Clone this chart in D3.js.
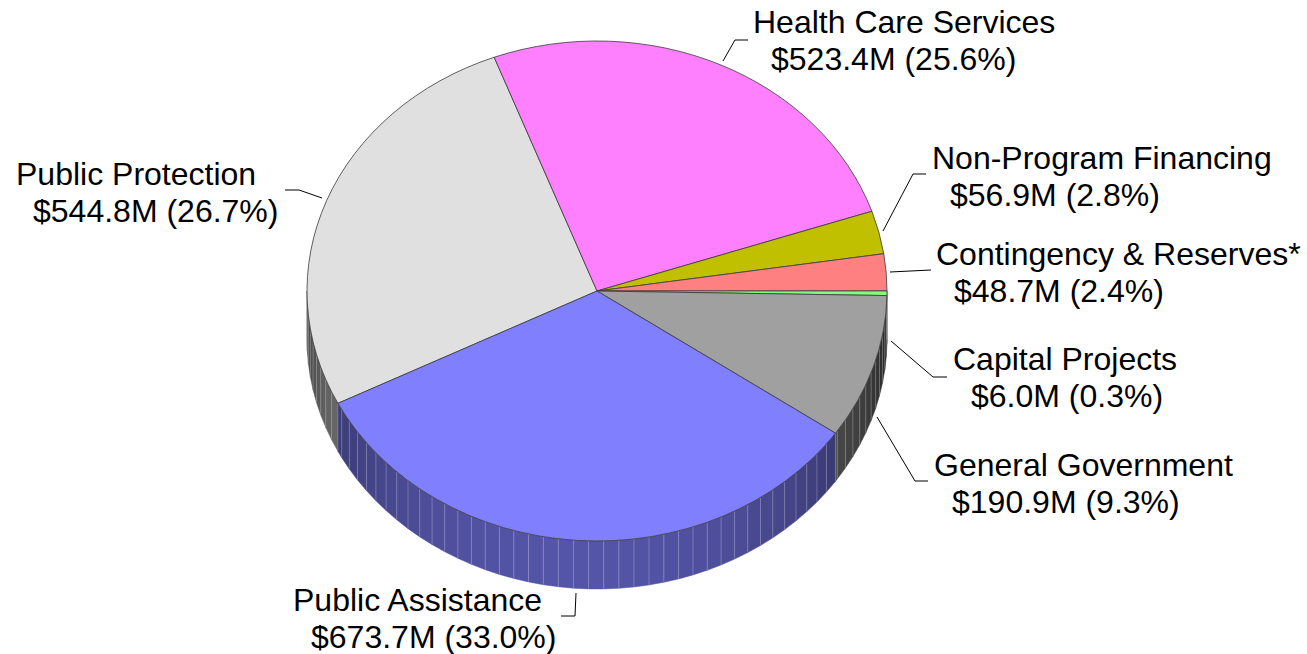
<!DOCTYPE html>
<meta charset="utf-8">
<style>
  html, body { margin: 0; padding: 0; background: #fff; }
  svg { display: block; }
</style>

<!-- Load d3.js -->
<script src="https://d3js.org/d3.v7.min.js"></script>

<div id="my_dataviz"></div>
<script>

    // data, clockwise from the Public Protection slice
    const categories = ["Public Protection", "Health Care Services", "Non-Program Financing", "Contingency & Reserves*", "Capital Projects", "General Government", "Public Assistance"];
    const amounts = [544.8, 523.4, 56.9, 48.7, 6.0, 190.9, 673.7];
    const amountLabels = ["$544.8M (26.7%)", "$523.4M (25.6%)", "$56.9M (2.8%)", "$48.7M (2.4%)", "$6.0M (0.3%)", "$190.9M (9.3%)", "$673.7M (33.0%)"];
    const colors = ["#e0e0e0", "#ff80ff", "#c0c000", "#ff8080", "#80ff80", "#a0a0a0", "#8080ff"];

    // layout of the labels and their leader lines
    const labelPos = [[16, 185, 33], [753, 33, 771], [932, 169, 950], [936, 265, 954], [953, 370, 971], [934, 476, 952], [293, 611, 311]];
    const leaders = [
      [[322, 198], [299, 190], [285, 190]],
      [[723, 61], [735, 40], [748, 40]],
      [[883, 231], [913, 174], [926, 174]],
      [[890, 272], [931, 270]],
      [[891, 341], [933, 377], [947, 377]],
      [[877, 417], [915, 481], [928, 481]],
      [[576, 593], [575, 616], [561, 616]]
    ];

    const width = 1307, height = 654;
    const cx = 597, cy = 291, rx = 290, ry = 250, depth = 48;
    const rad = Math.PI / 180;
    const facetStep = 3 * rad;

    const svg = d3.select("#my_dataviz")
      .append("svg")
        .attr("width", width)
        .attr("height", height);

    // angles of the slices
    const pie = d3.pie().sort(null).value(d => d)
      .startAngle(243.3 * rad)
      .endAngle((243.3 + 360) * rad);
    const slices = pie(amounts);

    // point on the rim for a given angle
    const rimX = a => cx + rx * Math.sin(a);
    const rimY = a => cy - ry * Math.cos(a);

    // the wall is only seen between 90 and 270 degrees
    function visibleSpans(s) {
      const spans = [];
      [0, 2 * Math.PI].forEach(k => {
        const a0 = Math.max(s.startAngle, Math.PI / 2 + k);
        const a1 = Math.min(s.endAngle, 3 * Math.PI / 2 + k);
        if (a1 > a0) spans.push([a0, a1]);
      });
      return spans;
    }

    // cut the wall in facets of 3 degrees, counted from the slice start
    const facets = [];
    slices.forEach((s, i) => {
      visibleSpans(s).forEach(([a0, a1]) => {
        const first = Math.floor((a0 - s.startAngle) / facetStep + 1e-6);
        for (let k = first; s.startAngle + k * facetStep < a1; k++) {
          const f0 = Math.max(a0, s.startAngle + k * facetStep);
          const f1 = Math.min(a1, s.startAngle + (k + 1) * facetStep);
          facets.push({i, a0: f0, a1: f1});
        }
      });
    });

    // shading, lightest near the bottom of the pie
    function shade(color, a) {
      const deg = ((a / rad) % 360);
      const f = Math.max(0.22, 0.25 + 0.41 * Math.cos((deg - 185) * rad));
      const c = d3.rgb(color);
      return d3.rgb(c.r * f, c.g * f, c.b * f).formatHex();
    }

    const line = d3.line();

    const wall = svg.append("g");
    wall.selectAll("path.facet")
      .data(facets)
      .join("path")
        .attr("class", "facet")
        .attr("d", d => line([
          [rimX(d.a0), rimY(d.a0)],
          [rimX(d.a1), rimY(d.a1)],
          [rimX(d.a1), rimY(d.a1) + depth],
          [rimX(d.a0), rimY(d.a0) + depth]
        ]) + "Z")
        .attr("fill", d => shade(colors[d.i], (d.a0 + d.a1) / 2))
        .attr("stroke", d => shade(colors[d.i], (d.a0 + d.a1) / 2))
        .attr("stroke-width", 0.5);

    // light hairlines between the facets
    wall.selectAll("path.seam")
      .data(facets.filter(d => d.a0 > Math.PI / 2 + 0.01))
      .join("path")
        .attr("class", "seam")
        .attr("d", d => line([[rimX(d.a0), rimY(d.a0)], [rimX(d.a0), rimY(d.a0) + depth]]))
        .attr("stroke", "#fff")
        .attr("stroke-opacity", 0.24)
        .attr("stroke-width", 1)
        .attr("fill", "none");

    // top of the pie: a circular arc squashed into an ellipse
    const arc = d3.arc().innerRadius(0).outerRadius(rx);
    svg.append("g")
      .attr("transform", `translate(${cx}, ${cy}) scale(1, ${ry / rx})`)
      .selectAll("path")
      .data(slices)
      .join("path")
        .attr("d", arc)
        .attr("fill", (d, i) => colors[i])
        .attr("stroke", "#3a3a3a")
        .attr("stroke-width", 0.8)
        .attr("stroke-linejoin", "round")
        .style("vector-effect", "non-scaling-stroke");

    // leader lines
    svg.append("g")
      .selectAll("path")
      .data(leaders)
      .join("path")
        .attr("d", d => line(d))
        .attr("fill", "none")
        .attr("stroke", "#000")
        .attr("stroke-width", 1);

    // labels, two lines each
    const label = svg.append("g")
      .style("font-family", "'Liberation Sans', Arial, sans-serif")
      .style("font-size", "32px")
      .attr("fill", "#000");
    label.selectAll("text.name")
      .data(categories)
      .join("text")
        .attr("class", "name")
        .attr("x", (d, i) => labelPos[i][0])
        .attr("y", (d, i) => labelPos[i][1])
        .text(d => d);
    label.selectAll("text.amount")
      .data(amountLabels)
      .join("text")
        .attr("class", "amount")
        .attr("x", (d, i) => labelPos[i][2])
        .attr("y", (d, i) => labelPos[i][1] + 37)
        .text(d => d);

</script>
